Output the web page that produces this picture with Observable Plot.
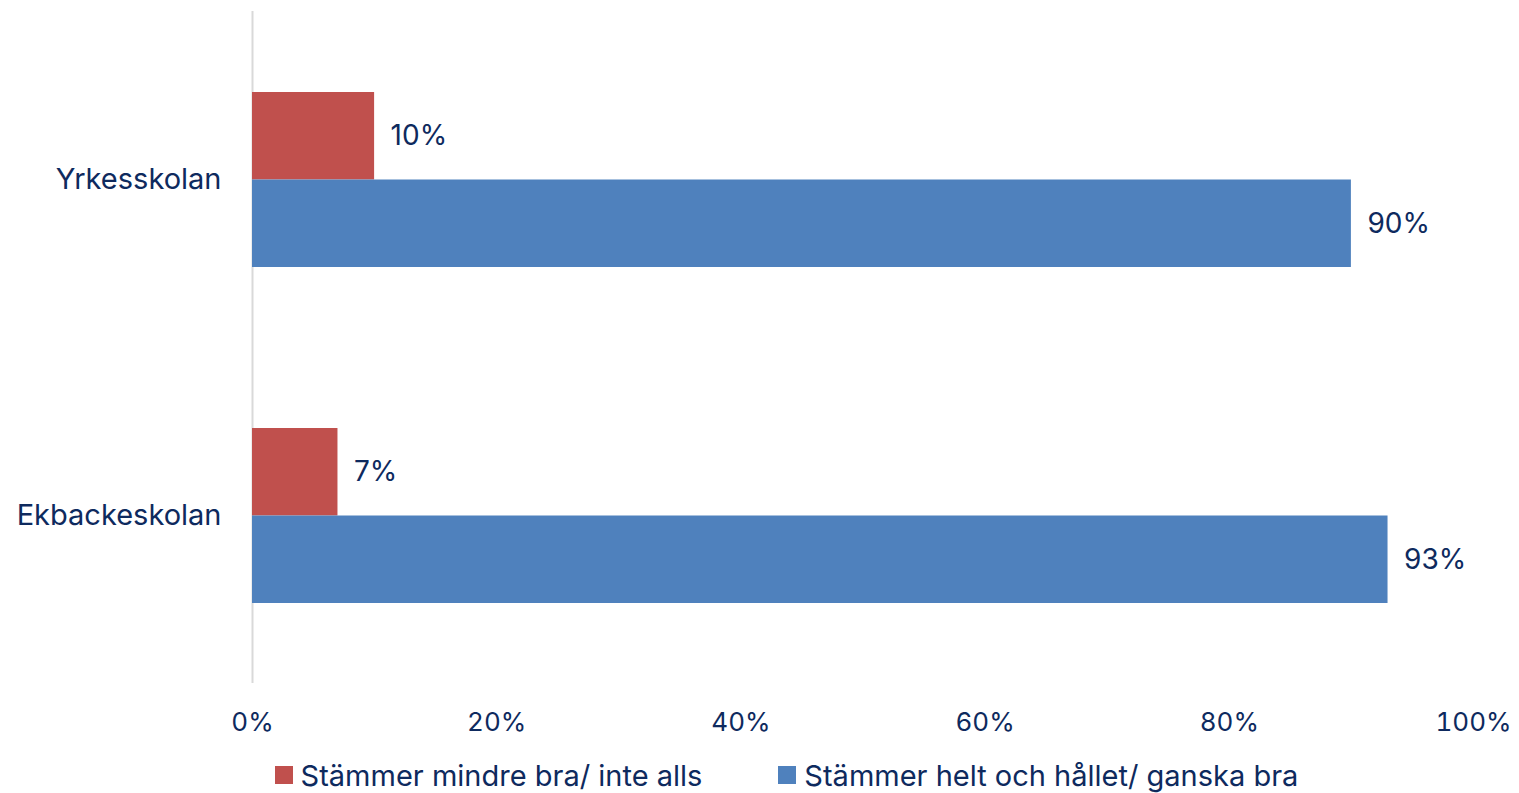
<!DOCTYPE html>
<html><head><meta charset="utf-8">
<script src="https://cdn.jsdelivr.net/npm/d3@7"></script>
<script src="https://cdn.jsdelivr.net/npm/@observablehq/plot@0.6"></script>
<style>
html,body{margin:0;padding:0;background:#fff;}
body{font-family:Inter, "Open Sans", sans-serif;color:#0E2A5E;width:1519px;}
#legend{display:flex;justify-content:center;align-items:center;gap:76px;font-size:29px;height:48px;margin-top:6px;padding-left:54px;box-sizing:border-box;width:1519px;}
#legend .item{display:flex;align-items:center;}
#legend .sw{width:18px;height:18px;margin-right:8px;display:inline-block;}
</style></head><body>
<div id="chart"></div>
<div id="legend"></div>
<script>
const schools = ["Yrkesskolan", "Ekbackeskolan"];
const seriesNames = ["Stämmer mindre bra/ inte alls", "Stämmer helt och hållet/ ganska bra"];
const valuesMindre = [0.10, 0.07];
const valuesHelt = [0.90, 0.93];
const seriesColors = ["#C0504D", "#4F81BD"];
const xTicks = [0, 0.2, 0.4, 0.6, 0.8, 1.0];

const rowsMindre = schools.map((s, i) => ({school: s, series: seriesNames[0], value: valuesMindre[i]}));
const rowsHelt = schools.map((s, i) => ({school: s, series: seriesNames[1], value: valuesHelt[i]}));
const pct = d => Math.round(d * 100) + "%";
const textColor = "#0E2A5E";

const chart = Plot.plot({
  width: 1519,
  height: 745,
  marginLeft: 252,
  marginRight: 46,
  marginTop: 11,
  marginBottom: 62,
  style: {fontFamily: "Inter, 'Open Sans', sans-serif", fontSize: "26px", color: textColor, background: "white", overflow: "visible"},
  x: {domain: [0, 1], label: null},
  y: {domain: schools, paddingInner: 0.48, paddingOuter: 0.24, label: null},
  color: {domain: seriesNames, range: seriesColors},
  marks: [
    Plot.axisX({ticks: xTicks, tickFormat: pct, tickSize: 0, tickPadding: 29, fontSize: 26, label: null}),
    Plot.axisY({tickSize: 0, tickPadding: 31, fontSize: 29, label: null}),
    Plot.ruleX([0], {stroke: "#d9d9d9", strokeWidth: 2}),
    Plot.barX(rowsMindre, {x: "value", y: "school", fill: "series", insetBottom: 87.5}),
    Plot.barX(rowsHelt, {x: "value", y: "school", fill: "series", insetTop: 87.5}),
    Plot.text(rowsMindre, {x: "value", y: "school", text: d => pct(d.value), textAnchor: "start", dx: 16, dy: -44, fill: textColor, fontSize: 28}),
    Plot.text(rowsHelt, {x: "value", y: "school", text: d => pct(d.value), textAnchor: "start", dx: 16, dy: 44, fill: textColor, fontSize: 28})
  ]
});
document.getElementById("chart").appendChild(chart);

const legend = d3.select("#legend");
seriesNames.forEach((name, i) => {
  const item = legend.append("div").attr("class", "item");
  item.append("span").attr("class", "sw").style("background", seriesColors[i]);
  item.append("span").text(name);
});
</script>
</body></html>
